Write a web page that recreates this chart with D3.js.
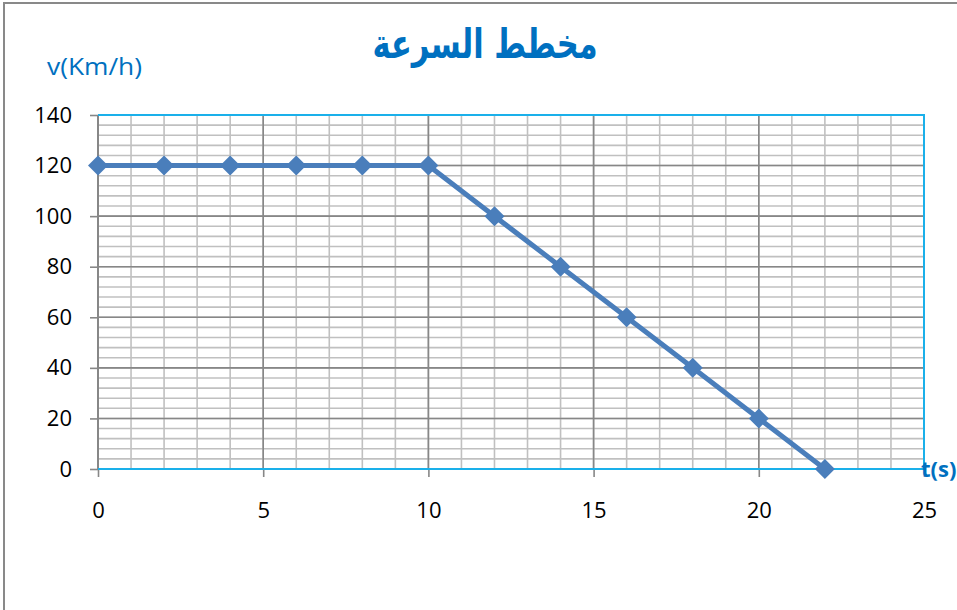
<!DOCTYPE html>
<html><head><meta charset="utf-8">
<script src="https://cdn.jsdelivr.net/npm/d3@7"></script>
<style>body{margin:0;background:#fff;} svg{display:block;}</style>
</head><body>
<svg id="c" width="957" height="610"></svg>
<script>
const title = "مخطط السرعة";
const yLabel = "v(Km/h)";
const xLabel = "t(s)";
const times = [0,2,4,6,8,10,12,14,16,18,20,22];
const speeds = [120,120,120,120,120,120,100,80,60,40,20,0];
const xTicks = [0,5,10,15,20,25];
const yTicks = [0,20,40,60,80,100,120,140];

const svg = d3.select("#c");
const L=98,R=924,T=115,B=469;
const x = d3.scaleLinear().domain([0,25]).range([L,R]);
const y = d3.scaleLinear().domain([0,140]).range([B,T]);

// frame
svg.append("rect").attr("x",4).attr("y",3).attr("width",1000).attr("height",700)
  .attr("fill","none").attr("stroke","#898989").attr("stroke-width",2);

const g = svg.append("g");
// minor grid
g.selectAll(".hm").data(d3.range(0,141,4)).join("line")
  .attr("x1",L).attr("x2",R).attr("y1",d=>y(d)).attr("y2",d=>y(d))
  .attr("stroke","#c0c0c0").attr("stroke-width",1.6);
g.selectAll(".vm").data(d3.range(0,26,1)).join("line")
  .attr("y1",T).attr("y2",B).attr("x1",d=>x(d)).attr("x2",d=>x(d))
  .attr("stroke","#c0c0c0").attr("stroke-width",1.6);
// major grid
g.selectAll(".hM").data(yTicks).join("line")
  .attr("x1",L).attr("x2",R).attr("y1",d=>y(d)).attr("y2",d=>y(d))
  .attr("stroke","#878787").attr("stroke-width",1.6);
g.selectAll(".vM").data(xTicks).join("line")
  .attr("y1",T).attr("y2",B).attr("x1",d=>x(d)).attr("x2",d=>x(d))
  .attr("stroke","#878787").attr("stroke-width",1.6);

// axes
const yAxis = svg.append("g").attr("transform",`translate(${L},0)`)
  .call(d3.axisLeft(y).tickValues(yTicks).tickSize(8).tickPadding(18));
const xAxis = svg.append("g").attr("transform",`translate(0,${B})`)
  .call(d3.axisBottom(x).tickValues(xTicks).tickSize(8).tickPadding(25));
[yAxis,xAxis].forEach(a=>{
  a.select(".domain").remove();
  a.selectAll("line").attr("stroke","#878787").attr("stroke-width",1.6);
  a.selectAll("text").attr("font-family","'Open Sans', sans-serif").attr("font-size",22).attr("fill","#000");
});
// left axis line
svg.append("line").attr("x1",L).attr("x2",L).attr("y1",T).attr("y2",B)
  .attr("stroke","#878787").attr("stroke-width",2);
// blue top, right, bottom borders
svg.append("path").attr("d",`M${L},${T}H${R}V${B}H${L}`).attr("fill","none")
  .attr("stroke","#1AB0EA").attr("stroke-width",2);

// series
const pts = times.map((t,i)=>[t,speeds[i]]);
svg.append("path").datum(pts)
  .attr("d",d3.line().x(d=>x(d[0])).y(d=>y(d[1])))
  .attr("fill","none").attr("stroke","#4A7EBB").attr("stroke-width",5).attr("stroke-linejoin","round");
svg.selectAll(".mk").data(pts).join("path")
  .attr("transform",d=>`translate(${x(d[0])},${y(d[1])})`)
  .attr("d","M0,-10L10,0L0,10L-10,0Z").attr("fill","#4A7EBB");

// labels
const tg = svg.append("g").attr("transform","translate(485,58) scale(1,1.35)");
const tt = tg.append("text").attr("x",0).attr("y",0).attr("text-anchor","middle")
  .attr("direction","rtl")
  .attr("font-family","'DejaVu Sans', sans-serif").attr("font-weight","bold")
  .attr("font-size",30).attr("fill","#0070C0").text(title);
const w = tt.node().getComputedTextLength();
if (w>0) tt.attr("font-size", 30*225/w);
const yl = svg.append("text").attr("x",47).attr("y",75)
  .attr("font-family","'Open Sans', sans-serif").attr("font-size",24).attr("fill","#0070C0").text(yLabel);
const yw = yl.node().getComputedTextLength();
if (yw>0) yl.attr("textLength",95).attr("lengthAdjust","spacingAndGlyphs");
svg.append("text").attr("x",921).attr("y",477)
  .attr("font-family","'Open Sans', sans-serif").attr("font-weight","bold").attr("font-size",22).attr("fill","#0070C0").text(xLabel);
</script>
</body></html>
